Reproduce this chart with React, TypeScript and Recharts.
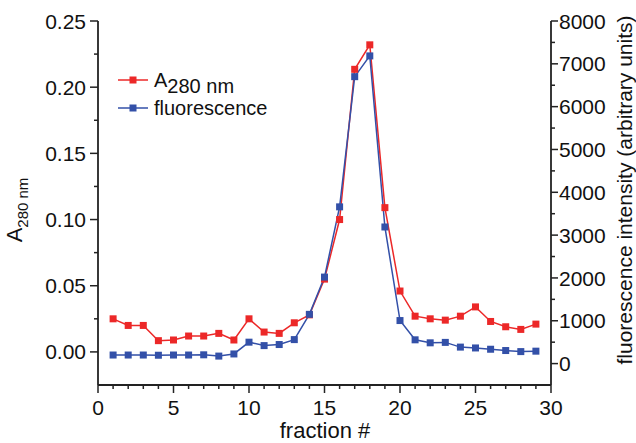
import React from "react";
import { LineChart, Line, XAxis, YAxis } from "recharts";

// fraction numbers and the two measured series
const fractions = [
  1, 2, 3, 4, 5, 6, 7, 8, 9, 10, 11, 12, 13, 14, 15, 16, 17, 18, 19, 20, 21,
  22, 23, 24, 25, 26, 27, 28, 29,
];
const a280 = [
  0.025, 0.02, 0.02, 0.0085, 0.009, 0.012, 0.012, 0.014, 0.009, 0.025, 0.015,
  0.014, 0.022, 0.028, 0.055, 0.1, 0.2135, 0.232, 0.109, 0.046, 0.027, 0.025,
  0.024, 0.027, 0.034, 0.023, 0.019, 0.017, 0.021,
];
const fluorescence = [
  200, 200, 200, 195, 200, 200, 205, 175, 225, 500, 420, 445, 560, 1150, 2020,
  3660, 6700, 7185, 3190, 1005, 555, 485, 495, 385, 365, 335, 305, 280, 290,
];

// tick values (majors get labels)
const xTicks = [
  0, 1, 2, 3, 4, 5, 6, 7, 8, 9, 10, 11, 12, 13, 14, 15, 16, 17, 18, 19, 20,
  21, 22, 23, 24, 25, 26, 27, 28, 29, 30,
];
const leftTicks = [
  0, 0.025, 0.05, 0.075, 0.1, 0.125, 0.15, 0.175, 0.2, 0.225, 0.25,
];
const rightTicks = [
  0, 500, 1000, 1500, 2000, 2500, 3000, 3500, 4000, 4500, 5000, 5500, 6000,
  6500, 7000, 7500, 8000,
];

const data = fractions.map((f, i) => ({
  fraction: f,
  a280: a280[i],
  fluo: fluorescence[i],
}));

const RED = "#ec2828";
const BLUE = "#3350a8";
const AXIS = "#222";
const FONT = "'Liberation Sans', Arial, sans-serif";
const TICK_FS = 21;

const isMajor = (v: number, step: number) =>
  Math.abs(v / step - Math.round(v / step)) < 1e-6;

const BottomTick = (props: any) => {
  const { x, y, payload } = props;
  const v = payload.value;
  const major = isMajor(v, 5);
  return (
    <g>
      <line x1={x} x2={x} y1={y} y2={y + (major ? 8 : 4)} stroke={AXIS} strokeWidth={1.5} />
      {major && (
        <text x={x} y={y + 30} textAnchor="middle" fontSize={TICK_FS} fontFamily={FONT} fill="#111">
          {v}
        </text>
      )}
    </g>
  );
};

const LeftTick = (props: any) => {
  const { x, y, payload } = props;
  const v = payload.value;
  const major = isMajor(v, 0.05);
  return (
    <g>
      <line x1={x} x2={x - (major ? 8 : 4)} y1={y} y2={y} stroke={AXIS} strokeWidth={1.5} />
      {major && (
        <text x={x - 12} y={y} dy="0.36em" textAnchor="end" fontSize={TICK_FS} fontFamily={FONT} fill="#111">
          {v.toFixed(2)}
        </text>
      )}
    </g>
  );
};

const RightTick = (props: any) => {
  const { x, y, payload } = props;
  const v = payload.value;
  const major = isMajor(v, 1000);
  return (
    <g>
      <line x1={x} x2={x + (major ? 7 : 4)} y1={y} y2={y} stroke={AXIS} strokeWidth={1.5} />
      {major && (
        <text x={x + 8} y={y} dy="0.36em" textAnchor="start" fontSize={TICK_FS} fontFamily={FONT} fill="#111">
          {v}
        </text>
      )}
    </g>
  );
};

const SquareDot = (color: string) => (props: any) => {
  const { cx, cy, index } = props;
  if (cx == null || cy == null) return <g key={index} />;
  return <rect key={index} x={cx - 3.5} y={cy - 3.5} width={7} height={7} fill={color} />;
};

const LeftTitle = () => (
  <text transform="translate(22,210) rotate(-90)" textAnchor="middle" fontFamily={FONT} fontSize={22} fill="#111">
    A
    <tspan fontSize={15} dy={6}>
      280 nm
    </tspan>
  </text>
);

const RightTitle = () => (
  <text transform="translate(624,190) rotate(-90)" textAnchor="middle" dy="0.36em" fontFamily={FONT} fontSize={21} fill="#111">
    fluorescence intensity (arbitrary units)
  </text>
);

const BottomTitle = () => (
  <text x={325} y={438} textAnchor="middle" fontFamily={FONT} fontSize={22} fill="#111">
    fraction #
  </text>
);

const legendRows = [
  { color: RED, main: "A", sub: "280 nm" },
  { color: BLUE, main: "fluorescence", sub: "" },
];

const LegendBox = () => (
  <div
    style={{
      position: "absolute",
      left: 118,
      top: 66,
      fontFamily: FONT,
      fontSize: 20,
      color: "#111",
      lineHeight: "28px",
    }}
  >
    {legendRows.map((r) => (
      <div key={r.main} style={{ display: "flex", alignItems: "center", height: 28 }}>
        <svg width={30} height={28} style={{ marginRight: 6 }}>
          <line x1={0} x2={30} y1={14} y2={14} stroke={r.color} strokeWidth={1.5} />
          <rect x={11.5} y={10.5} width={7} height={7} fill={r.color} />
        </svg>
        <span style={{ whiteSpace: "nowrap" }}>
          {r.main}
          {r.sub && <span style={{ position: "relative", top: 6 }}>{r.sub}</span>}
        </span>
      </div>
    ))}
  </div>
);

export default function App() {
  return (
    <div style={{ position: "absolute", left: 0, top: 0, width: 636, height: 443, background: "#fff" }}>
      <LineChart
        width={636}
        height={443}
        data={data}
        margin={{ top: 21, right: 0, bottom: 0, left: 0 }}
      >
        <XAxis
          dataKey="fraction"
          type="number"
          domain={[0, 30]}
          ticks={xTicks}
          interval={0}
          height={58}
          tickSize={0}
          tickMargin={0}
          tick={<BottomTick />}
          axisLine={{ stroke: AXIS, strokeWidth: 1.8 }}
          tickLine={false}
          label={<BottomTitle />}
        />
        <YAxis
          yAxisId="left"
          orientation="left"
          type="number"
          domain={[-0.025, 0.25]}
          ticks={leftTicks}
          interval={0}
          width={98}
          tickSize={0}
          tickMargin={0}
          tick={<LeftTick />}
          axisLine={{ stroke: AXIS, strokeWidth: 1.8 }}
          tickLine={false}
          label={<LeftTitle />}
        />
        <YAxis
          yAxisId="right"
          orientation="right"
          type="number"
          domain={[-500, 8000]}
          ticks={rightTicks}
          interval={0}
          width={85}
          tickSize={0}
          tickMargin={0}
          tick={<RightTick />}
          axisLine={{ stroke: AXIS, strokeWidth: 1.8 }}
          tickLine={false}
          label={<RightTitle />}
        />
        <Line
          yAxisId="left"
          dataKey="a280"
          stroke={RED}
          strokeWidth={1.5}
          dot={SquareDot(RED)}
          activeDot={false}
          isAnimationActive={false}
        />
        <Line
          yAxisId="right"
          dataKey="fluo"
          stroke={BLUE}
          strokeWidth={1.5}
          dot={SquareDot(BLUE)}
          activeDot={false}
          isAnimationActive={false}
        />
      </LineChart>
      <LegendBox />
    </div>
  );
}
